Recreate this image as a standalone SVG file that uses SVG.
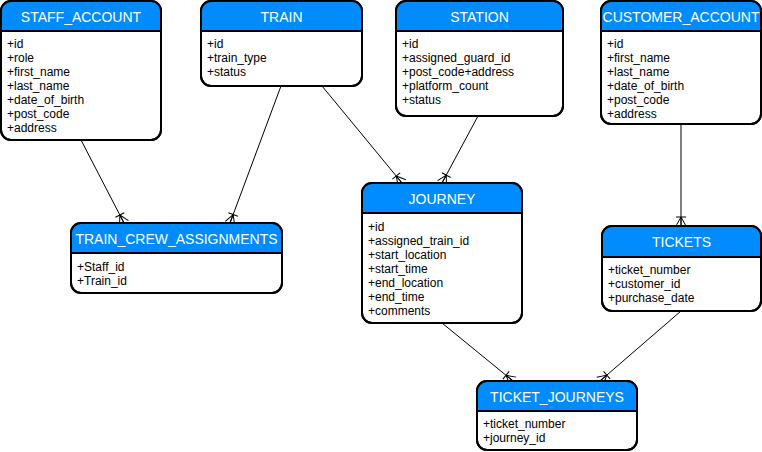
<svg xmlns="http://www.w3.org/2000/svg" width="762" height="452" viewBox="0 0 762 452">
<style>
.box{fill:#ffffff;stroke:#000000;stroke-width:2}
.hdr{fill:#008cff}
.sep{stroke:#000000;stroke-width:2}
.title{font-family:"Liberation Sans",Arial,sans-serif;font-size:14px;fill:#ffffff;text-anchor:middle;dominant-baseline:central}
.attr{font-family:"Liberation Sans",Arial,sans-serif;font-size:12px;fill:#000000;dominant-baseline:central}
.conn{stroke:#000000;stroke-width:1;fill:none;marker-end:url(#many)}
</style>
<defs>
<marker id="many" markerUnits="userSpaceOnUse" viewBox="-12 -7 14 14" markerWidth="14" markerHeight="14" refX="0" refY="0" orient="auto" overflow="visible">
<path d="M-9,0 L0,-5 M-9,0 L0,0 M-9,0 L0,5 M-9,-5 L-9,5" stroke="#000000" stroke-width="1" fill="none"/>
</marker>
<clipPath id="c1"><rect x="1" y="1" width="160" height="139" rx="10"/></clipPath>
<clipPath id="c2"><rect x="201" y="1" width="161" height="85" rx="10"/></clipPath>
<clipPath id="c3"><rect x="396" y="1" width="167" height="115" rx="10"/></clipPath>
<clipPath id="c4"><rect x="601" y="1" width="160" height="123" rx="10"/></clipPath>
<clipPath id="c5"><rect x="71" y="223" width="211" height="70" rx="10"/></clipPath>
<clipPath id="c6"><rect x="362" y="183" width="160" height="140" rx="10"/></clipPath>
<clipPath id="c7"><rect x="602" y="226" width="159" height="85" rx="10"/></clipPath>
<clipPath id="c8"><rect x="477" y="381" width="160" height="69" rx="10"/></clipPath>
</defs>
<g id="connectors">
<line class="conn" x1="81" y1="140" x2="124" y2="223"/>
<line class="conn" x1="281" y1="86" x2="230" y2="223"/>
<line class="conn" x1="322" y1="86" x2="402" y2="183"/>
<line class="conn" x1="478" y1="116" x2="442" y2="183"/>
<line class="conn" x1="681" y1="124" x2="681" y2="226"/>
<line class="conn" x1="442" y1="323" x2="513" y2="381"/>
<line class="conn" x1="681" y1="311" x2="600" y2="381"/>
</g>
<g id="staff_account">
<rect class="box" x="1" y="1" width="160" height="139" rx="10"/>
<rect class="hdr" x="1" y="1" width="160" height="30" clip-path="url(#c1)"/>
<rect x="1" y="1" width="160" height="139" rx="10" fill="none" stroke="#000" stroke-width="2"/>
<line class="sep" x1="1" y1="31" x2="161" y2="31"/>
<text class="title" x="81" y="17">STAFF_ACCOUNT</text>
<text class="attr" x="7" y="44">+id</text>
<text class="attr" x="7" y="58">+role</text>
<text class="attr" x="7" y="72">+first_name</text>
<text class="attr" x="7" y="86">+last_name</text>
<text class="attr" x="7" y="100">+date_of_birth</text>
<text class="attr" x="7" y="114">+post_code</text>
<text class="attr" x="7" y="128">+address</text>
</g>
<g id="train">
<rect class="box" x="201" y="1" width="161" height="85" rx="10"/>
<rect class="hdr" x="201" y="1" width="161" height="30" clip-path="url(#c2)"/>
<rect x="201" y="1" width="161" height="85" rx="10" fill="none" stroke="#000" stroke-width="2"/>
<line class="sep" x1="201" y1="31" x2="362" y2="31"/>
<text class="title" x="281.5" y="17">TRAIN</text>
<text class="attr" x="207" y="44">+id</text>
<text class="attr" x="207" y="58">+train_type</text>
<text class="attr" x="207" y="72">+status</text>
</g>
<g id="station">
<rect class="box" x="396" y="1" width="167" height="115" rx="10"/>
<rect class="hdr" x="396" y="1" width="167" height="30" clip-path="url(#c3)"/>
<rect x="396" y="1" width="167" height="115" rx="10" fill="none" stroke="#000" stroke-width="2"/>
<line class="sep" x1="396" y1="31" x2="563" y2="31"/>
<text class="title" x="479.5" y="17">STATION</text>
<text class="attr" x="402" y="44">+id</text>
<text class="attr" x="402" y="58">+assigned_guard_id</text>
<text class="attr" x="402" y="72">+post_code+address</text>
<text class="attr" x="402" y="86">+platform_count</text>
<text class="attr" x="402" y="100">+status</text>
</g>
<g id="customer_account">
<rect class="box" x="601" y="1" width="160" height="123" rx="10"/>
<rect class="hdr" x="601" y="1" width="160" height="30" clip-path="url(#c4)"/>
<rect x="601" y="1" width="160" height="123" rx="10" fill="none" stroke="#000" stroke-width="2"/>
<line class="sep" x1="601" y1="31" x2="761" y2="31"/>
<text class="title" x="681" y="17">CUSTOMER_ACCOUNT</text>
<text class="attr" x="607" y="44">+id</text>
<text class="attr" x="607" y="58">+first_name</text>
<text class="attr" x="607" y="72">+last_name</text>
<text class="attr" x="607" y="86">+date_of_birth</text>
<text class="attr" x="607" y="100">+post_code</text>
<text class="attr" x="607" y="114">+address</text>
</g>
<g id="train_crew_assignments">
<rect class="box" x="71" y="223" width="211" height="70" rx="10"/>
<rect class="hdr" x="71" y="223" width="211" height="30" clip-path="url(#c5)"/>
<rect x="71" y="223" width="211" height="70" rx="10" fill="none" stroke="#000" stroke-width="2"/>
<line class="sep" x1="71" y1="253" x2="282" y2="253"/>
<text class="title" x="176.5" y="239">TRAIN_CREW_ASSIGNMENTS</text>
<text class="attr" x="77" y="267">+Staff_id</text>
<text class="attr" x="77" y="281">+Train_id</text>
</g>
<g id="journey">
<rect class="box" x="362" y="183" width="160" height="140" rx="10"/>
<rect class="hdr" x="362" y="183" width="160" height="30" clip-path="url(#c6)"/>
<rect x="362" y="183" width="160" height="140" rx="10" fill="none" stroke="#000" stroke-width="2"/>
<line class="sep" x1="362" y1="213" x2="522" y2="213"/>
<text class="title" x="442" y="199">JOURNEY</text>
<text class="attr" x="368" y="227">+id</text>
<text class="attr" x="368" y="241">+assigned_train_id</text>
<text class="attr" x="368" y="255">+start_location</text>
<text class="attr" x="368" y="269">+start_time</text>
<text class="attr" x="368" y="283">+end_location</text>
<text class="attr" x="368" y="297">+end_time</text>
<text class="attr" x="368" y="311">+comments</text>
</g>
<g id="tickets">
<rect class="box" x="602" y="226" width="159" height="85" rx="10"/>
<rect class="hdr" x="602" y="226" width="159" height="31" clip-path="url(#c7)"/>
<rect x="602" y="226" width="159" height="85" rx="10" fill="none" stroke="#000" stroke-width="2"/>
<line class="sep" x1="602" y1="257" x2="761" y2="257"/>
<text class="title" x="681.5" y="242">TICKETS</text>
<text class="attr" x="608" y="270">+ticket_number</text>
<text class="attr" x="608" y="284">+customer_id</text>
<text class="attr" x="608" y="298">+purchase_date</text>
</g>
<g id="ticket_journeys">
<rect class="box" x="477" y="381" width="160" height="69" rx="10"/>
<rect class="hdr" x="477" y="381" width="160" height="30" clip-path="url(#c8)"/>
<rect x="477" y="381" width="160" height="69" rx="10" fill="none" stroke="#000" stroke-width="2"/>
<line class="sep" x1="477" y1="411" x2="637" y2="411"/>
<text class="title" x="557" y="397">TICKET_JOURNEYS</text>
<text class="attr" x="483" y="424">+ticket_number</text>
<text class="attr" x="483" y="438">+journey_id</text>
</g>
</svg>
